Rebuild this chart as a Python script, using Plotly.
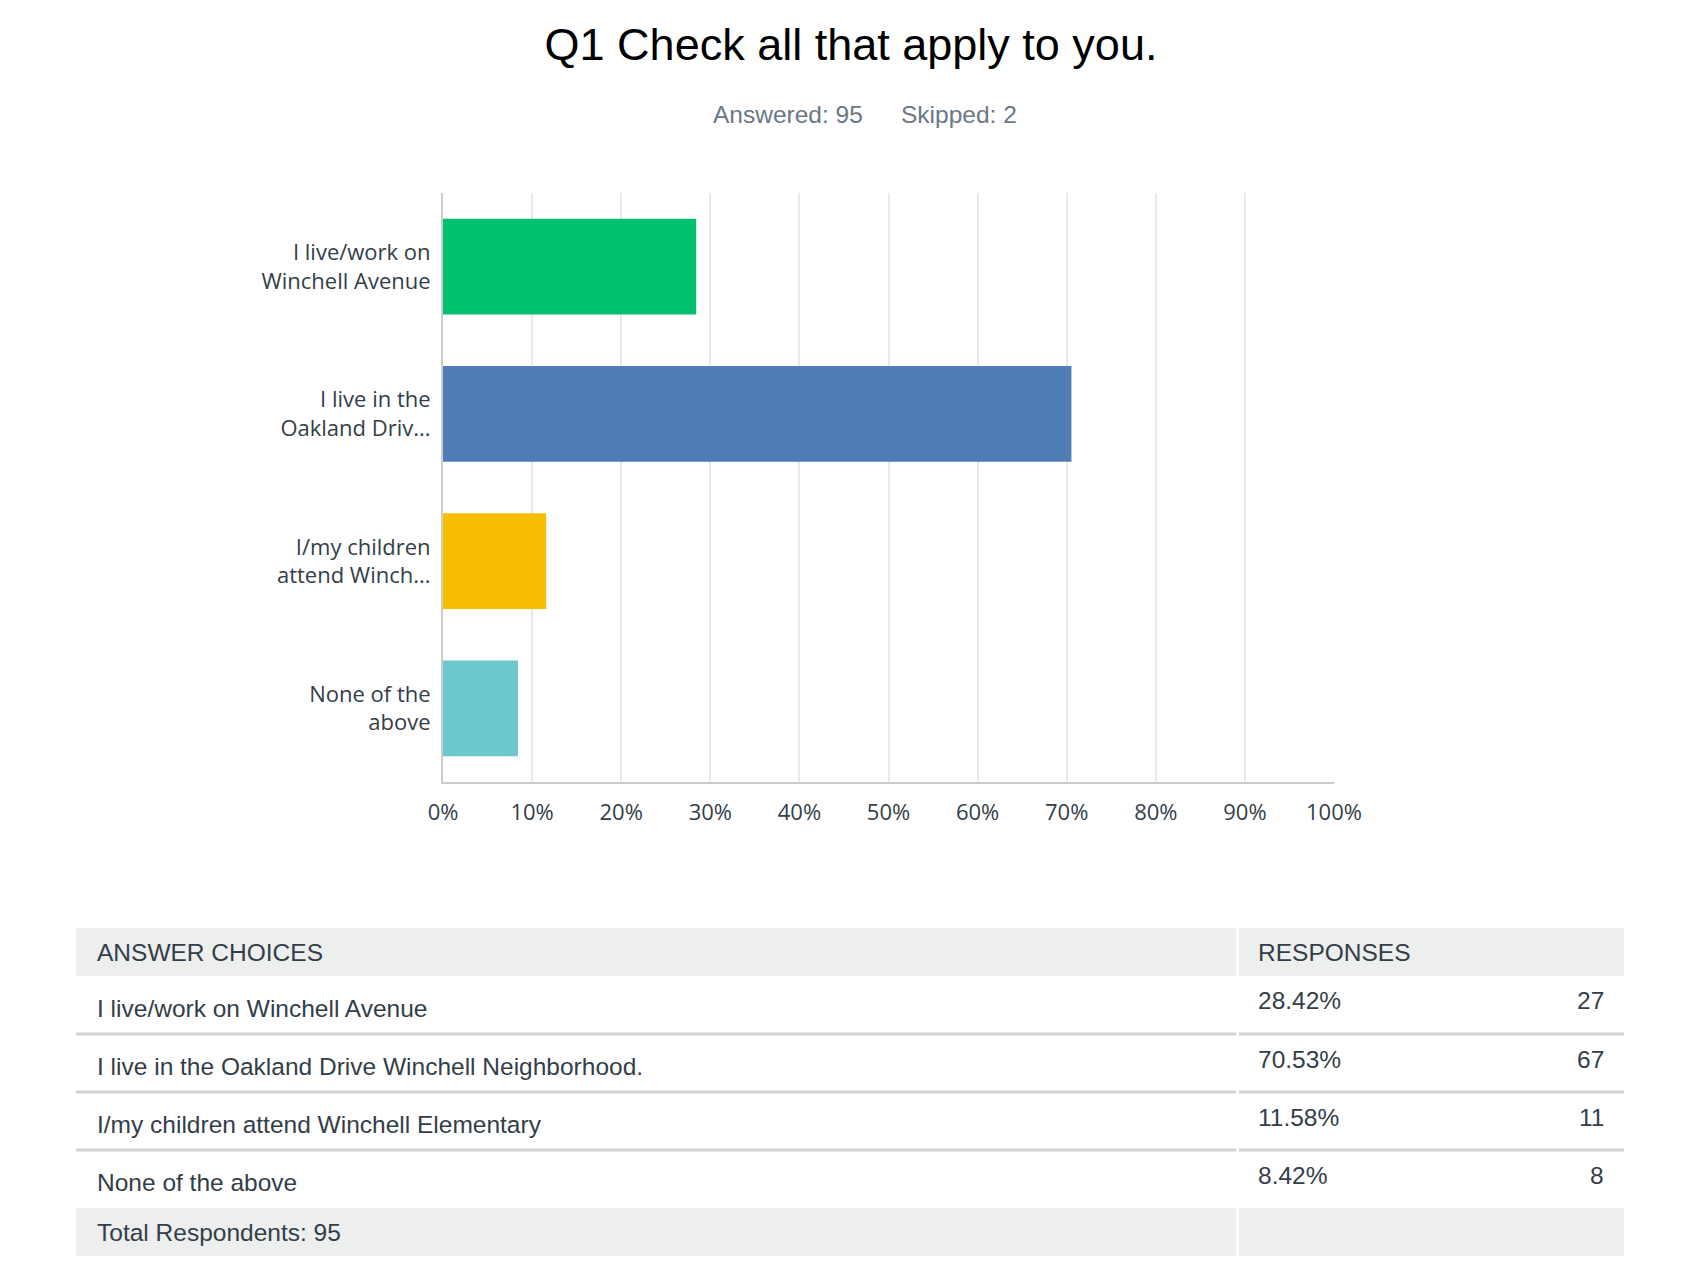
import plotly.graph_objects as go

# ---------------- data ----------------
title_text = "Q1 Check all that apply to you."
answered = 95
skipped = 2
total_respondents = 95

choices = [
    "I live/work on Winchell Avenue",
    "I live in the Oakland Drive Winchell Neighborhood.",
    "I/my children attend Winchell Elementary",
    "None of the above",
]
axis_labels = [
    "I live/work on<br>Winchell Avenue",
    "I live in the<br>Oakland Driv...",
    "I/my children<br>attend Winch...",
    "None of the<br>above",
]
percents = [28.42, 70.53, 11.58, 8.42]
counts = [27, 67, 11, 8]
bar_colors = ["#00BF6F", "#507CB6", "#F9BE00", "#6BC8CD"]
x_tick_vals = [0, 10, 20, 30, 40, 50, 60, 70, 80, 90, 100]
x_tick_labels = ["0%", "10%", "20%", "30%", "40%", "50%", "60%", "70%", "80%", "90%", "100%"]

# ---------------- layout helpers ----------------
W, H = 1699, 1270
# the page places the plot area slightly inset horizontally; map target pixels to paper
X0, WEFF = 15.0, 1656.0
def fx(p):
    return (p - X0) / WEFF
def fy(p):
    return 1 - p / H

TXT = "#333e48"
BAND = "#edeeee"
SEP = "#d0d2d3"
TABLE_FONT = "Liberation Sans, Arial, sans-serif"
AXIS_FONT = "Open Sans, sans-serif"

fig = go.Figure()
fig.add_trace(go.Bar(
    x=percents,
    y=choices,
    orientation="h",
    marker=dict(color=bar_colors, line=dict(width=0)),
    hoverinfo="skip",
))

shapes = []
annotations = []

# table geometry
tl, tdiv0, tdiv1, tr = 76, 1236, 1239, 1624
head_top, head_bot = 928, 976
row_h = 58

def band(y0, y1):
    for a, b in ((tl, tdiv0), (tdiv1, tr)):
        shapes.append(dict(type="rect", xref="paper", yref="paper",
                           x0=fx(a), x1=fx(b), y0=fy(y1), y1=fy(y0),
                           fillcolor=BAND, line=dict(width=0), layer="below"))

band(head_top, head_bot)
footer_top = head_bot + row_h * len(choices)
band(footer_top, footer_top + 48)

for i in range(len(choices) - 1):
    ys = head_bot + row_h * (i + 1)
    for a, b in ((tl, tdiv0), (tdiv1, tr)):
        shapes.append(dict(type="line", xref="paper", yref="paper",
                           x0=fx(a), x1=fx(b), y0=fy(ys), y1=fy(ys),
                           line=dict(color=SEP, width=3)))

def txt(text, x, y, size=24.5, color=TXT, anchor="left", font=TABLE_FONT):
    annotations.append(dict(text=text, xref="paper", yref="paper",
                            x=fx(x), y=fy(y), xanchor=anchor, yanchor="middle",
                            showarrow=False, font=dict(family=font, size=size, color=color)))

txt("ANSWER CHOICES", 94.5, 953)
txt("RESPONSES", 1255.5, 953)
for i, (c, p, n) in enumerate(zip(choices, percents, counts)):
    top = head_bot + row_h * i
    txt(c, 94.5, top + 32)
    txt(f"{p:.2f}%", 1255.5, top + 25)
    txt(str(n), 1606, top + 25, anchor="right")
txt(f"Total Respondents: {total_respondents}", 94.5, footer_top + 24)

# subtitle
txt(f"Answered: {answered}", 711, 114, size=24.5, color="#6b7785")
txt(f"Skipped: {skipped}", 899, 114, size=24.5, color="#6b7785")

fig.update_layout(
    width=W, height=H, autosize=False,
    margin=dict(l=0, r=0, t=0, b=0),
    paper_bgcolor="white", plot_bgcolor="white",
    showlegend=False,
    bargap=0.35,
    title=dict(text=title_text, x=fx(851), xanchor="center", xref="paper",
               y=fy(44), yanchor="middle", yref="paper",
               font=dict(family=TABLE_FONT, size=45, color="#000000")),
    xaxis=dict(domain=[fx(443), fx(1334)], range=[0, 100],
               tickvals=x_tick_vals, ticktext=x_tick_labels,
               showgrid=True, gridcolor="#e9e9e9", gridwidth=2,
               showline=True, linecolor="#cccccc", linewidth=2,
               zeroline=False, ticks="", ticklabelstandoff=10,
               tickfont=dict(family=AXIS_FONT, size=22, color=TXT),
               fixedrange=True),
    yaxis=dict(domain=[fy(782), fy(193)],
               categoryorder="array", categoryarray=choices, autorange="reversed",
               tickvals=choices, ticktext=axis_labels,
               showgrid=False, showline=True, linecolor="#cccccc", linewidth=2,
               ticks="", ticklabelstandoff=6,
               tickfont=dict(family=AXIS_FONT, size=22, color=TXT),
               fixedrange=True),
    shapes=shapes,
    annotations=annotations,
)

fig.write_html("out.html", config={"responsive": False, "displayModeBar": False})
